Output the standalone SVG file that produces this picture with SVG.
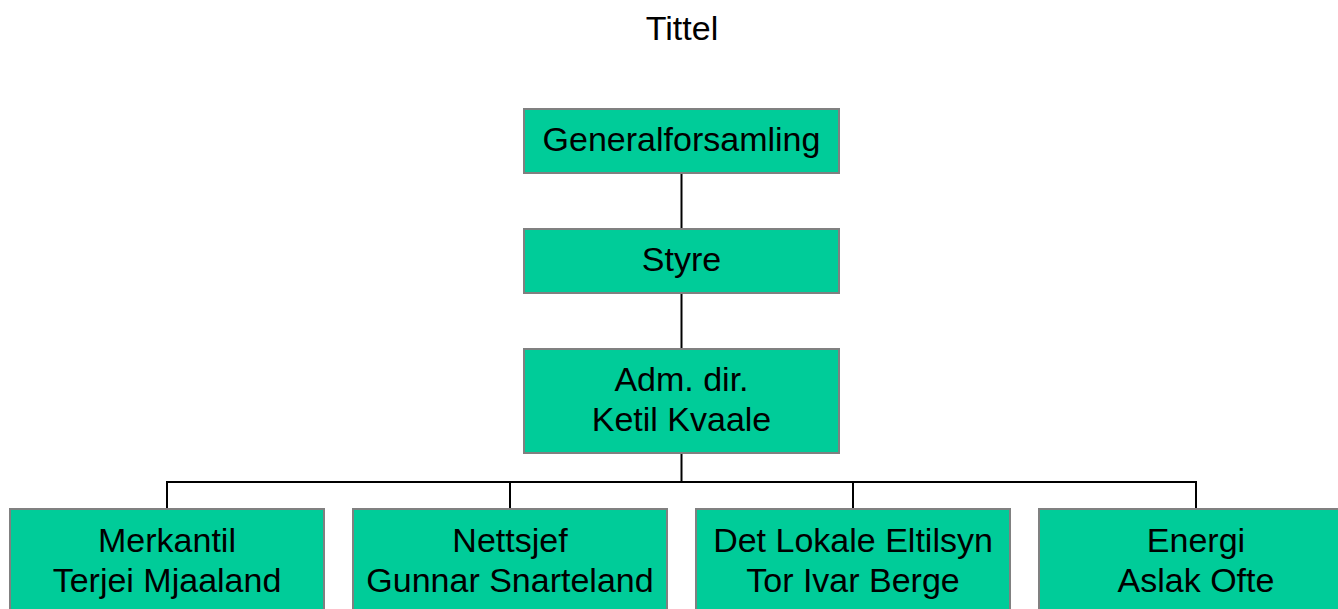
<svg xmlns="http://www.w3.org/2000/svg" width="1338" height="609" viewBox="0 0 1338 609">
<style>
.box{fill:#00CC99;stroke:#808080;stroke-width:2}
.t{font-family:"Liberation Sans",Arial,sans-serif;font-size:34px;fill:#000;text-anchor:middle}
.c{stroke:#000;stroke-width:2;fill:none}
</style>
<rect width="1338" height="609" fill="#fff"/>
<text class="t" x="682" y="39.5">Tittel</text>
<g id="connectors">
<line class="c" x1="681.5" y1="173" x2="681.5" y2="229"/>
<line class="c" x1="681.5" y1="293" x2="681.5" y2="349"/>
<line class="c" x1="681.5" y1="453" x2="681.5" y2="482"/>
<polyline class="c" points="167,509 167,482 1196,482 1196,509"/>
<line class="c" x1="510" y1="482" x2="510" y2="509"/>
<line class="c" x1="853" y1="482" x2="853" y2="509"/>
</g>
<g id="n-general"><rect class="box" x="524" y="109" width="315" height="64"/><text class="t" x="681.5" y="150.5">Generalforsamling</text></g>
<g id="n-styre"><rect class="box" x="524" y="229" width="315" height="64"/><text class="t" x="681.5" y="270.5">Styre</text></g>
<g id="n-adm"><rect class="box" x="524" y="349" width="315" height="104"/><text class="t" x="681.5" y="390.5">Adm. dir.</text><text class="t" x="681.5" y="430.5">Ketil Kvaale</text></g>
<g id="n-merkantil"><rect class="box" x="10" y="509" width="314" height="110"/><text class="t" x="167" y="552">Merkantil</text><text class="t" x="167" y="592">Terjei Mjaaland</text></g>
<g id="n-nettsjef"><rect class="box" x="353" y="509" width="314" height="110"/><text class="t" x="510" y="552">Nettsjef</text><text class="t" x="510" y="592">Gunnar Snarteland</text></g>
<g id="n-eltilsyn"><rect class="box" x="696" y="509" width="314" height="110"/><text class="t" x="853" y="552">Det Lokale Eltilsyn</text><text class="t" x="853" y="592">Tor Ivar Berge</text></g>
<g id="n-energi"><rect class="box" x="1039" y="509" width="314" height="110"/><text class="t" x="1196" y="552">Energi</text><text class="t" x="1196" y="592">Aslak Ofte</text></g>
</svg>
